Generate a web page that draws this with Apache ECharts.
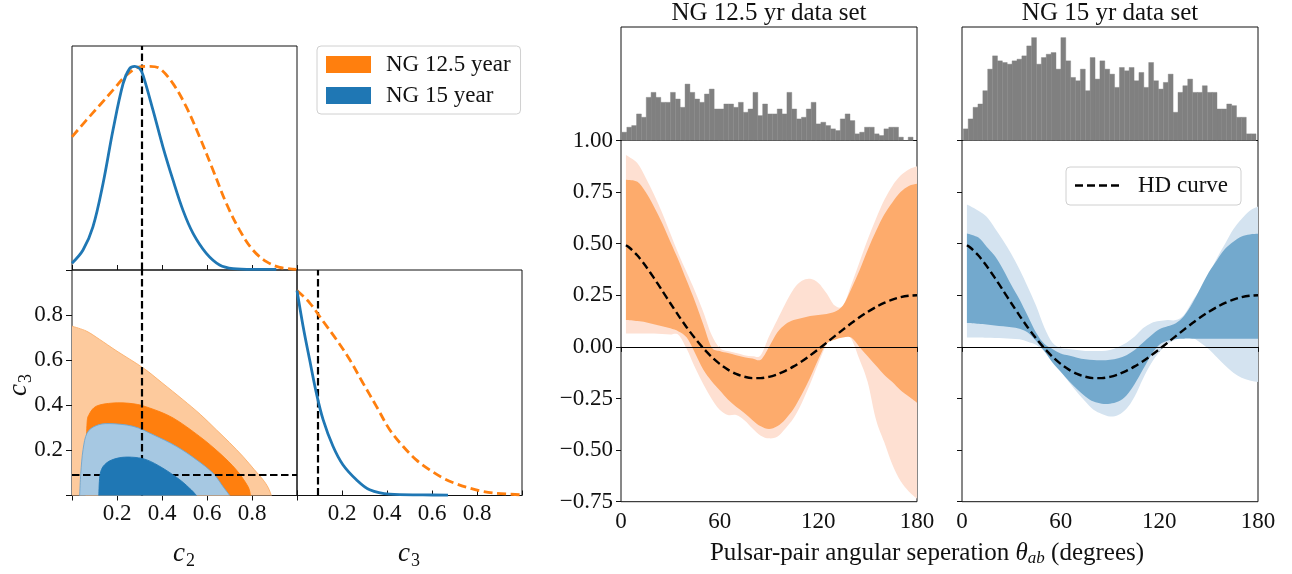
<!DOCTYPE html>
<html>
<head>
<meta charset="utf-8">
<script src="https://cdn.jsdelivr.net/npm/echarts@6/dist/echarts.min.js"></script>
<style>
  html, body { margin: 0; padding: 0; background: #ffffff; }
  #chart { width: 1292px; height: 574px; }
</style>
</head>
<body>
<div id="chart"></div>
<script>
// ---------------------------------------------------------------
// Data
// ---------------------------------------------------------------

// Hellings-Downs Legendre coefficients
const truthC2 = 0.3125;
const truthC3 = 0.0875;

// Marginal posteriors, normalised to a peak of 1
const c2Grid15 = [0, 0.049, 0.093, 0.138, 0.182, 0.227, 0.256, 0.279, 0.301, 0.316, 0.36, 0.404, 0.449, 0.493, 0.538, 0.597, 0.656, 0.716, 0.804, 0.908];
const c2Dens15 = [0.033, 0.098, 0.212, 0.425, 0.686, 0.915, 0.989, 1.0, 0.989, 0.956, 0.785, 0.605, 0.441, 0.294, 0.18, 0.082, 0.025, 0.007, 0.003, 0.003];
const c2Grid125 = [0, 0.064, 0.123, 0.182, 0.241, 0.301, 0.345, 0.39, 0.449, 0.508, 0.567, 0.627, 0.686, 0.745, 0.804, 0.864, 0.923, 0.997];
const c2Dens125 = [0.654, 0.736, 0.809, 0.883, 0.956, 0.997, 1.0, 0.989, 0.915, 0.801, 0.654, 0.49, 0.327, 0.196, 0.098, 0.041, 0.013, 0.003];

const c3Grid15 = [0, 0.027, 0.056, 0.086, 0.116, 0.16, 0.204, 0.264, 0.323, 0.412, 0.56, 0.671];
const c3Dens15 = [1.0, 0.826, 0.663, 0.5, 0.37, 0.24, 0.15, 0.077, 0.028, 0.0065, 0.003, 0.0016];
const c3Grid125 = [0, 0.056, 0.116, 0.175, 0.234, 0.293, 0.353, 0.412, 0.471, 0.53, 0.59, 0.649, 0.708, 0.767, 0.827, 0.886, 1.0];
const c3Dens125 = [1.0, 0.94, 0.85, 0.761, 0.663, 0.549, 0.435, 0.321, 0.24, 0.174, 0.125, 0.085, 0.057, 0.036, 0.02, 0.011, 0.003];

// Joint (c2, c3) credible regions: upper edge c3 as a function of c2
const outer125C2 = [0, 0.064, 0.123, 0.2, 0.316, 0.4, 0.493, 0.57, 0.641, 0.7, 0.76, 0.81, 0.849, 0.872, 0.886];
const outer125C3 = [0.751, 0.729, 0.692, 0.64, 0.566, 0.5, 0.425, 0.36, 0.292, 0.235, 0.173, 0.115, 0.07, 0.035, 0];
const inner125C2 = [0.062, 0.064, 0.067, 0.076, 0.108, 0.182, 0.271, 0.345, 0.449, 0.567, 0.656, 0.73, 0.782, 0.793];
const inner125C3 = [0, 0.2, 0.321, 0.359, 0.396, 0.41, 0.407, 0.388, 0.344, 0.262, 0.188, 0.114, 0.04, 0];
const outer15C2 = [0.034, 0.039, 0.049, 0.067, 0.108, 0.167, 0.271, 0.36, 0.464, 0.553, 0.627, 0.671, 0.701];
const outer15C3 = [0, 0.099, 0.203, 0.277, 0.31, 0.319, 0.307, 0.27, 0.218, 0.159, 0.099, 0.04, 0];
const inner15C2 = [0.119, 0.126, 0.153, 0.204, 0.264, 0.33, 0.404, 0.479, 0.53, 0.553];
const inner15C3 = [0, 0.099, 0.144, 0.166, 0.17, 0.159, 0.121, 0.07, 0.025, 0];

// Pulsar-pair counts per angular bin (60 bins)
const histRange125 = [0.6, 177.6];
const pairCounts125 = [5, 8, 9, 16, 14, 26, 29, 26, 23, 23, 29, 25, 20, 34, 29, 25, 23, 28, 31, 19,
                       19, 22, 22, 20, 23, 17, 19, 29, 15, 22, 16, 16, 19, 16, 29, 19, 13, 14, 19, 23,
                       10, 11, 9, 7, 6, 13, 16, 12, 4, 5, 8, 8, 4, 3, 7, 8, 8, 2, 0, 2];
const histRange15 = [0.8, 178.8];
const pairCounts15 = [7, 13, 20, 22, 30, 43, 51, 48, 47, 46, 48, 49, 51, 57, 62, 46, 50, 52, 53, 43,
                      62, 48, 38, 36, 43, 30, 50, 37, 48, 43, 40, 32, 44, 42, 44, 36, 41, 32, 47, 36,
                      31, 35, 40, 17, 29, 33, 37, 29, 29, 33, 29, 29, 19, 19, 22, 21, 14, 14, 4, 4];

// Reconstructed correlation: 1-sigma and 2-sigma bands
const bandTheta = [3, 10, 15, 20, 25, 30, 35, 40, 45, 50, 55, 60, 65, 70, 75, 80, 85, 90,
                   95, 100, 105, 110, 115, 120, 125, 130, 135, 140, 145, 150, 155, 160, 165, 170, 175, 180];
const ng125Hi2 = [0.93, 0.89, 0.82, 0.74, 0.65, 0.55, 0.45, 0.36, 0.27, 0.17, 0.06, -0.005, -0.02, -0.03, -0.04, -0.045, -0.04, 0.05,
                  0.13, 0.21, 0.28, 0.32, 0.33, 0.31, 0.26, 0.2, 0.2, 0.3, 0.41, 0.52, 0.62, 0.71, 0.78, 0.83, 0.86, 0.875];
const ng125Hi1 = [0.81, 0.8, 0.75, 0.68, 0.6, 0.51, 0.42, 0.32, 0.22, 0.11, 0.0, -0.02, -0.03, -0.04, -0.05, -0.056, -0.062, 0.0,
                  0.07, 0.11, 0.13, 0.14, 0.15, 0.155, 0.16, 0.17, 0.2, 0.28, 0.37, 0.47, 0.56, 0.64, 0.7, 0.75, 0.78, 0.79];
const ng125Lo1 = [0.13, 0.125, 0.12, 0.11, 0.1, 0.09, 0.075, 0.045, -0.03, -0.11, -0.165, -0.21, -0.255, -0.29, -0.32, -0.355, -0.385, -0.398,
                  -0.385, -0.35, -0.3, -0.23, -0.15, -0.06, 0.015, 0.035, 0.045, 0.045, 0.0, -0.045, -0.09, -0.135, -0.17, -0.21, -0.24, -0.27];
const ng125Lo2 = [0.065, 0.065, 0.065, 0.065, 0.063, 0.06, 0.058, -0.01, -0.1, -0.18, -0.25, -0.305, -0.33, -0.33, -0.355, -0.395, -0.43, -0.443,
                  -0.435, -0.395, -0.345, -0.27, -0.18, -0.08, 0.01, 0.05, 0.056, 0.04, -0.06, -0.17, -0.35, -0.46, -0.57, -0.65, -0.7, -0.735];

const ng15Hi2 = [0.69, 0.66, 0.63, 0.575, 0.515, 0.45, 0.375, 0.29, 0.2, 0.095, 0.02, -0.005, -0.01, -0.015, -0.02, -0.02, -0.02, -0.015,
                 0.0, 0.02, 0.05, 0.09, 0.115, 0.125, 0.13, 0.13, 0.155, 0.22, 0.28, 0.35, 0.43, 0.5, 0.57, 0.62, 0.66, 0.68];
const ng15Hi1 = [0.55, 0.53, 0.485, 0.44, 0.375, 0.3, 0.23, 0.15, 0.07, 0.015, -0.01, -0.032, -0.042, -0.052, -0.06, -0.064, -0.065, -0.062,
                 -0.055, -0.04, -0.015, 0.02, 0.055, 0.085, 0.1, 0.115, 0.15, 0.21, 0.285, 0.36, 0.42, 0.475, 0.51, 0.535, 0.545, 0.548];
const ng15Lo1 = [0.116, 0.112, 0.108, 0.104, 0.1, 0.095, 0.088, 0.07, 0.03, -0.02, -0.075, -0.12, -0.165, -0.205, -0.24, -0.265, -0.275, -0.275,
                 -0.265, -0.235, -0.18, -0.11, -0.04, 0.01, 0.03, 0.038, 0.04, 0.04, 0.04, 0.04, 0.04, 0.04, 0.04, 0.04, 0.04, 0.04];
const ng15Lo2 = [0.045, 0.045, 0.044, 0.043, 0.042, 0.04, 0.037, 0.025, 0.01, -0.02, -0.065, -0.115, -0.17, -0.22, -0.265, -0.305, -0.325, -0.337,
                 -0.33, -0.3, -0.24, -0.155, -0.08, -0.025, 0.015, 0.035, 0.048, 0.045, 0.02, -0.01, -0.05, -0.09, -0.125, -0.15, -0.163, -0.17];

// Hellings-Downs correlation
const hdTheta = [3, 5, 10, 15, 20, 25, 30, 35, 40, 45, 50, 55, 60, 65, 70, 75, 80, 85, 90,
                 95, 100, 105, 110, 115, 120, 125, 130, 135, 140, 145, 150, 155, 160, 165, 170, 175, 180];
const hdCorr = [0.4923, 0.4816, 0.4425, 0.3917, 0.3341, 0.2732, 0.2116, 0.1514, 0.0943, 0.0414, -0.0061, -0.0476, -0.0824, -0.1102, -0.1308, -0.1445, -0.1511, -0.1511, -0.1449,
                -0.1329, -0.1159, -0.0945, -0.0693, -0.0413, -0.0111, 0.0203, 0.0522, 0.0839, 0.1145, 0.1433, 0.1697, 0.1931, 0.2130, 0.2289, 0.2406, 0.2476, 0.25];

// ---------------------------------------------------------------
// Styling helpers
// ---------------------------------------------------------------
const FONT = 'Liberation Serif';
const FS = 23;
const FS_BIG = 25;
const ORANGE = '#ff7f0e';
const BLUE = '#1f77b4';
const INK = '#111111';

const zip = (xs, ys) => xs.map((x, i) => [x, ys[i]]);

const tickStyle = { lineStyle: { color: INK, width: 1 } };
const labelStyle = { color: INK, fontFamily: FONT, fontSize: FS };

// Catmull-Rom spline through pixel points, as SVG path commands
function splinePath(pts, first) {
  let d = (first ? 'M' : 'L') + pts[0][0] + ',' + pts[0][1];
  for (let i = 0; i < pts.length - 1; i++) {
    const p0 = pts[Math.max(i - 1, 0)], p1 = pts[i], p2 = pts[i + 1], p3 = pts[Math.min(i + 2, pts.length - 1)];
    const c1x = p1[0] + (p2[0] - p0[0]) / 6, c1y = p1[1] + (p2[1] - p0[1]) / 6;
    const c2x = p2[0] - (p3[0] - p1[0]) / 6, c2y = p2[1] - (p3[1] - p1[1]) / 6;
    d += 'C' + c1x + ',' + c1y + ' ' + c2x + ',' + c2y + ' ' + p2[0] + ',' + p2[1];
  }
  return d;
}

function hiddenAxis(gridIndex, min, max) {
  return {
    type: 'value', gridIndex, min, max, show: false,
    axisLine: { show: false }, axisTick: { show: false }, axisLabel: { show: false },
    splitLine: { show: false }
  };
}

function unitAxis(gridIndex, opts) {
  return Object.assign({
    type: 'value', gridIndex, min: 0, max: 1, interval: 0.2,
    axisLine: { show: false },
    axisTick: Object.assign({ show: true, inside: true, length: 5 }, tickStyle),
    axisLabel: { show: false },
    splitLine: { show: false }
  }, opts || {});
}

const innerLabel = v => (v > 0 && v < 1 ? v.toFixed(1) : '');
const corrLabel = v => (v < 0 ? '\u2212' + Math.abs(v).toFixed(2) : v.toFixed(2));

function line(xi, yi, xs, ys, color, dashed, z) {
  return {
    type: 'line', xAxisIndex: xi, yAxisIndex: yi, data: zip(xs, ys),
    symbol: 'none', smooth: 0.35, silent: true, z: z || 5,
    lineStyle: { color, width: 2.8, type: dashed ? [9, 4.5] : 'solid', cap: 'butt' }
  };
}

// filled credible region in the joint panel, closed along c3 = 0
function region(name, xs, ys, fill, edge, z) {
  return {
    name, type: 'custom', xAxisIndex: 1, yAxisIndex: 1, silent: true, z,
    color: fill,
    data: zip(xs, ys),
    encode: { x: 0, y: 1 },
    renderItem(params, api) {
      if (params.dataIndexInside !== 0) return null;
      const n = params.dataInsideLength;
      const pts = [];
      for (let k = 0; k < n; k++) pts.push(api.coord([api.value(0, k), api.value(1, k)]));
      const edgePath = splinePath(pts, true);
      const b1 = api.coord([api.value(0, n - 1), 0]);
      const b0 = api.coord([api.value(0, 0), 0]);
      const fillPath = edgePath + 'L' + b1[0] + ',' + b1[1] + 'L' + b0[0] + ',' + b0[1] + 'Z';
      return {
        type: 'group',
        children: [
          { type: 'path', shape: { pathData: fillPath }, style: { fill, stroke: null } },
          { type: 'path', shape: { pathData: edgePath }, style: { fill: null, stroke: edge, lineWidth: 0.9 } }
        ]
      };
    }
  };
}

// filled band between two curves sampled on bandTheta
function band(lo, hi, color, xi, yi, z) {
  return {
    type: 'custom', xAxisIndex: xi, yAxisIndex: yi, silent: true, z,
    data: bandTheta.map((t, i) => [t, lo[i], hi[i]]),
    encode: { x: 0, y: [1, 2] },
    renderItem(params, api) {
      if (params.dataIndexInside !== 0) return null;
      const n = params.dataInsideLength;
      const up = [], dn = [];
      for (let k = 0; k < n; k++) {
        const t = api.value(0, k);
        up.push(api.coord([t, api.value(2, k)]));
        dn.push(api.coord([t, api.value(1, k)]));
      }
      dn.reverse();
      const d = splinePath(up, true) + splinePath(dn, false) + 'Z';
      return { type: 'path', shape: { pathData: d }, style: { fill: color, stroke: null } };
    }
  };
}

function histogram(counts, range, xi, yi) {
  const w = (range[1] - range[0]) / counts.length;
  return {
    type: 'custom', xAxisIndex: xi, yAxisIndex: yi, silent: true, z: 3,
    data: counts.map((c, i) => [range[0] + i * w, range[0] + (i + 1) * w, c]),
    encode: { x: [0, 1], y: 2 },
    renderItem(params, api) {
      const p0 = api.coord([api.value(0), api.value(2)]);
      const p1 = api.coord([api.value(1), 0]);
      return {
        type: 'rect',
        shape: { x: p0[0], y: p0[1], width: p1[0] - p0[0], height: p1[1] - p0[1] },
        style: { fill: '#808080', stroke: '#808080', lineWidth: 0.4 }
      };
    }
  };
}

function refLine(xi, yi, data, z) {
  return {
    type: 'line', xAxisIndex: xi, yAxisIndex: yi, data: [], silent: true, z: z || 8,
    markLine: {
      silent: true, symbol: ['none', 'none'], animation: false,
      label: { show: false },
      lineStyle: { color: '#000', width: 2.2, type: [7.5, 3.5] },
      data
    }
  };
}

const frame = { show: true, borderColor: INK, borderWidth: 1, backgroundColor: 'transparent' };

// ---------------------------------------------------------------
// Layout: three corner-plot panels + two pairs of correlation panels
// ---------------------------------------------------------------
const grids = [
  Object.assign({ left: 72, top: 46, width: 225, height: 224 }, frame),      // c2 marginal
  Object.assign({ left: 72, top: 270, width: 225, height: 225.5 }, frame),   // c2-c3 joint
  Object.assign({ left: 297, top: 270, width: 225, height: 225.5 }, frame),  // c3 marginal
  Object.assign({ left: 621, top: 27, width: 296, height: 113.5 }, frame),   // NG12.5 pairs
  Object.assign({ left: 621, top: 140.5, width: 296, height: 361.2 }, frame),// NG12.5 correlation
  Object.assign({ left: 962, top: 27, width: 296, height: 113.5 }, frame),   // NG15 pairs
  Object.assign({ left: 962, top: 140.5, width: 296, height: 361.2 }, frame) // NG15 correlation
];

const thetaAxis = (gridIndex) => ({
  type: 'value', gridIndex, min: 0, max: 180, interval: 60,
  axisLine: { show: false },
  axisTick: Object.assign({ show: true, inside: false, length: 5 }, tickStyle),
  axisLabel: Object.assign({ show: true, margin: 9 }, labelStyle),
  splitLine: { show: false }
});

const xAxes = [
  unitAxis(0),
  unitAxis(1, { axisLabel: Object.assign({ show: true, margin: 7, formatter: innerLabel }, labelStyle) }),
  unitAxis(1, { position: 'top' }),
  unitAxis(2, { axisLabel: Object.assign({ show: true, margin: 7, formatter: innerLabel }, labelStyle) }),
  hiddenAxis(3, 0, 180),
  thetaAxis(4),
  hiddenAxis(5, 0, 180),
  thetaAxis(6)
];

const yAxes = [
  hiddenAxis(0, 0, 1.1),
  unitAxis(1, {
    axisTick: Object.assign({ show: true, inside: false, length: 6 }, tickStyle),
    axisLabel: Object.assign({ show: true, margin: 9, formatter: innerLabel }, labelStyle)
  }),
  unitAxis(1, { position: 'right' }),
  hiddenAxis(2, 0, 1.1),
  hiddenAxis(3, 0, 68.4),
  {
    type: 'value', gridIndex: 4, min: -0.75, max: 1.0, interval: 0.25,
    axisLine: { show: false },
    axisTick: Object.assign({ show: true, inside: false, length: 5 }, tickStyle),
    axisLabel: Object.assign({ show: true, margin: 8, formatter: corrLabel }, labelStyle),
    splitLine: { show: false }
  },
  hiddenAxis(5, 0, 68.4),
  {
    type: 'value', gridIndex: 6, min: -0.75, max: 1.0, interval: 0.25,
    axisLine: { show: false },
    axisTick: Object.assign({ show: true, inside: false, length: 5 }, tickStyle),
    axisLabel: { show: false },
    splitLine: { show: false }
  }
];

const series = [
  // c2 marginal
  line(0, 0, c2Grid125, c2Dens125, ORANGE, true, 5),
  line(0, 0, c2Grid15, c2Dens15, BLUE, false, 6),
  refLine(0, 0, [{ xAxis: truthC2 }]),

  // joint credible regions
  region('NG 12.5 year 2sigma', outer125C2, outer125C3, '#fdca9d', '#fcb06c', 2),
  region('NG 12.5 year', inner125C2, inner125C3, ORANGE, ORANGE, 3),
  region('NG 15 year 2sigma', outer15C2, outer15C3, '#a6c8e2', '#6fa6cf', 4),
  region('NG 15 year', inner15C2, inner15C3, BLUE, BLUE, 5),
  refLine(1, 1, [{ xAxis: truthC2 }, { yAxis: truthC3 }]),

  // c3 marginal
  line(3, 3, c3Grid125, c3Dens125, ORANGE, true, 5),
  line(3, 3, c3Grid15, c3Dens15, BLUE, false, 6),
  refLine(3, 3, [{ xAxis: truthC3 }]),

  // pair histograms
  histogram(pairCounts125, histRange125, 4, 4),
  histogram(pairCounts15, histRange15, 6, 6),

  // correlation bands
  band(ng125Lo2, ng125Hi2, '#fee0d2', 5, 5, 2),
  band(ng125Lo1, ng125Hi1, '#fdab6c', 5, 5, 3),
  band(ng15Lo2, ng15Hi2, '#d4e3f0', 7, 7, 2),
  band(ng15Lo1, ng15Hi1, '#73a9cd', 7, 7, 3)
];

// zero line and HD curve
[[5, 5], [7, 7]].forEach(([xi, yi]) => {
  series.push({
    type: 'line', xAxisIndex: xi, yAxisIndex: yi, data: [], silent: true, z: 6,
    markLine: {
      silent: true, symbol: ['none', 'none'], animation: false, label: { show: false },
      lineStyle: { color: '#000', width: 1, type: 'solid' },
      data: [{ yAxis: 0 }]
    }
  });
  series.push({
    name: 'HD curve', type: 'line', xAxisIndex: xi, yAxisIndex: yi,
    data: zip(hdTheta, hdCorr), symbol: 'none', smooth: 0.3, silent: true, z: 8,
    lineStyle: { color: '#000', width: 2.4, type: [8, 4] }
  });
});

// ---------------------------------------------------------------
// Texts and the HD legend
// ---------------------------------------------------------------
const mathRich = {
  i: { fontFamily: FONT, fontStyle: 'italic', fontSize: 27, color: INK },
  s: { fontFamily: FONT, fontSize: 18, color: INK, padding: [14, 0, 0, 1] },
  t: { fontFamily: FONT, fontSize: FS_BIG, color: INK },
  th: { fontFamily: FONT, fontStyle: 'italic', fontSize: FS_BIG, color: INK },
  ab: { fontFamily: FONT, fontStyle: 'italic', fontSize: 17, color: INK, padding: [11, 0, 0, 0] }
};

function label(x, y, text, extra, size) {
  return Object.assign({
    type: 'text', x, y, silent: true,
    style: { text, fill: INK, font: (size || FS) + 'px "' + FONT + '"', align: 'center', verticalAlign: 'middle', rich: mathRich }
  }, extra || {});
}

const graphic = [
  label(769, 13, 'NG 12.5 yr data set', null, FS_BIG),
  label(1110, 13, 'NG 15 yr data set', null, FS_BIG),
  label(184, 554, '{i|c}{s|2}'),
  label(409, 554, '{i|c}{s|3}'),
  label(19, 385, '{i|c}{s|3}', { rotation: Math.PI / 2 }),
  label(927, 553, '{t|Pulsar-pair angular seperation }{th|\u03b8}{ab|ab}{t| (degrees)}'),
  // HD legend box
  {
    type: 'rect', silent: true, z: 20,
    shape: { x: 1066, y: 167, width: 175, height: 38, r: 4 },
    style: { fill: 'rgba(255,255,255,0.85)', stroke: '#d0d0d0', lineWidth: 1 }
  },
  {
    type: 'line', silent: true, z: 21,
    shape: { x1: 1075, y1: 185.5, x2: 1120, y2: 185.5 },
    style: { stroke: '#000', lineWidth: 2.4, lineDash: [8, 4] }
  },
  {
    type: 'text', silent: true, z: 21, x: 1138, y: 186,
    style: { text: 'HD curve', fill: INK, font: FS + 'px "' + FONT + '"', align: 'left', verticalAlign: 'middle' }
  }
];

const chart = echarts.init(document.getElementById('chart'), null, { renderer: 'canvas' });
chart.setOption({
  animation: false,
  backgroundColor: '#ffffff',
  grid: grids,
  xAxis: xAxes,
  yAxis: yAxes,
  legend: {
    data: [{ name: 'NG 12.5 year', icon: 'rect' }, { name: 'NG 15 year', icon: 'rect' }],
    orient: 'vertical', left: 317, top: 46,
    itemWidth: 45, itemHeight: 17, itemGap: 8,
    padding: [7, 10, 7, 9],
    backgroundColor: '#ffffff', borderColor: '#d0d0d0', borderWidth: 1, borderRadius: 4,
    selectedMode: false,
    itemStyle: { borderWidth: 0 },
    textStyle: { fontFamily: FONT, fontSize: FS, color: INK, padding: [0, 0, 0, 10] }
  },
  series,
  graphic
});
</script>
</body>
</html>
